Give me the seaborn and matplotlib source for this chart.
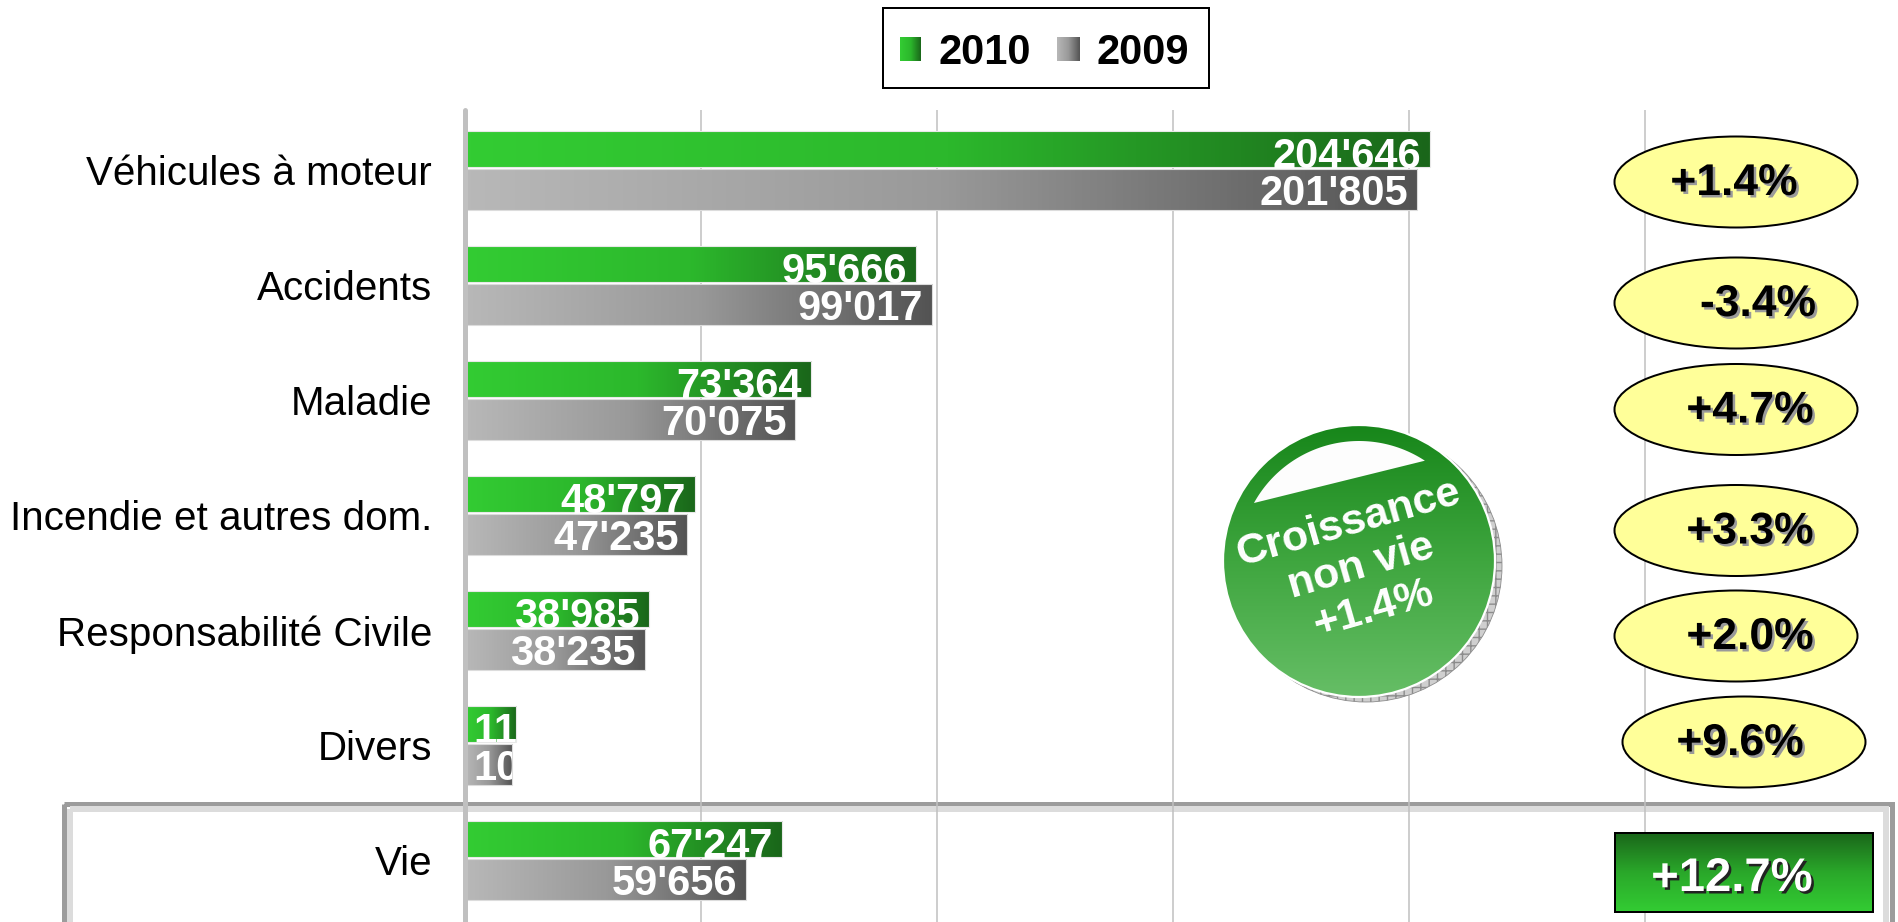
import numpy as np
import pandas as pd
import matplotlib
matplotlib.use("Agg")
import matplotlib.pyplot as plt
import seaborn as sns
from matplotlib import font_manager as fm
from matplotlib.patches import Rectangle, Ellipse, Circle, Polygon
from matplotlib.colors import LinearSegmentedColormap
from matplotlib.transforms import Bbox, offset_copy
import matplotlib.patheffects as pe

# ---------------- data ----------------
categories = ["Véhicules à moteur", "Accidents", "Maladie",
              "Incendie et autres dom.", "Responsabilité Civile", "Divers", "Vie"]
years = ["2010", "2009"]
values_2010 = [204646, 95666, 73364, 48797, 38985, 11010, 67247]
values_2009 = [201805, 99017, 70075, 47235, 38235, 10046, 59656]
growth_labels = ["+1.4%", "-3.4%", "+4.7%", "+3.3%", "+2.0%", "+9.6%"]
growth_vie = "+12.7%"
badge_lines = ["Croissance", "non vie", "+1.4%"]


def font_ok(name):
    try:
        fm.findfont(fm.FontProperties(family=name), fallback_to_default=False)
        return True
    except Exception:
        return False


sns.set_theme(style="white")
BASE = "Liberation Sans" if font_ok("Liberation Sans") else "DejaVu Sans"
NARROW = BASE
for cand in ["Liberation Sans Narrow", "Arial Narrow", "Nimbus Sans Narrow"]:
    if font_ok(cand):
        NARROW = cand
        break
nscale = 1.0 if NARROW != BASE else 0.83
plt.rcParams["font.family"] = [BASE, "DejaVu Sans"]

W, H, DPI = 1898, 922, 100
PT = 72.0 / DPI
fig = plt.figure(figsize=(W / DPI, H / DPI), dpi=DPI, facecolor="white")

AX_LEFT, AX_TOP = 464.5, 110
back = fig.add_axes([0, 0, 1, 1], zorder=0)
ax = fig.add_axes([AX_LEFT / W, 0, 1 - AX_LEFT / W, (H - AX_TOP) / H], zorder=1)
front = fig.add_axes([0, 0, 1, 1], zorder=3)
for o in (back, front):
    o.set_xlim(0, W)
    o.set_ylim(H, 0)
    o.axis("off")
    o.patch.set_alpha(0)
ax.patch.set_alpha(0)

df = pd.DataFrame({
    "Branche": categories * 2,
    "Année": [years[0]] * len(categories) + [years[1]] * len(categories),
    "Primes": values_2010 + values_2009,
})

sns.barplot(data=df, y="Branche", x="Primes", hue="Année", order=categories,
            hue_order=years, orient="h", dodge=True, width=0.722, gap=0.08,
            palette={"2010": "#33cc33", "2009": "#b3b3b3"}, saturation=1,
            legend=False, ax=ax)

green_bars = list(ax.containers[0])
gray_bars = list(ax.containers[1])
for p in green_bars:
    p.set_height(p.get_height() - 0.02)
for p in gray_bars:
    p.set_y(p.get_y() - 0.025)
    p.set_height(p.get_height() + 0.025)

cm_green = LinearSegmentedColormap.from_list("g", ["#33cc33", "#2cb82c", "#1a661a"])
cm_gray = LinearSegmentedColormap.from_list("k", ["#b8b8b8", "#999999", "#535353"])
hramp = np.linspace(0, 1, 256)[None, :]
vramp = np.linspace(0, 1, 256)[:, None]


def fill_grad(axis, patch, cmap, ramp=hramp):
    x0, y0, w, h = patch.get_x(), patch.get_y(), patch.get_width(), patch.get_height()
    im = axis.imshow(ramp, cmap=cmap, extent=[x0, x0 + w, y0 + h, y0],
                     aspect="auto", interpolation="bilinear",
                     zorder=patch.get_zorder() - 0.01)
    im.set_clip_path(patch)
    patch.set_facecolor("none")


for p in green_bars:
    fill_grad(ax, p, cm_green)
    p.set_edgecolor("#e8e8e8")
    p.set_linewidth(0.8)
for p in gray_bars:
    fill_grad(ax, p, cm_gray)
    p.set_edgecolor("#dcdcdc")
    p.set_linewidth(0.8)

PX_PER_UNIT = 236 / 50000
ax.set_xlim(0, (W - AX_LEFT) / PX_PER_UNIT)
ax.set_ylim(6.535, -0.526)
ax.set_xticks(np.arange(50000, 250001, 50000))
ax.set_xticklabels([])
ax.tick_params(axis="x", length=0)
ax.set_yticks(range(len(categories)))
ax.set_yticklabels(categories, family=[NARROW, "DejaVu Sans"],
                   fontsize=35 * nscale, color="black")
ax.tick_params(axis="y", length=0, pad=23.4)
ax.set_xlabel("")
ax.set_ylabel("")
ax.xaxis.grid(True, color="#c0c0c0", lw=1.1)
ax.yaxis.grid(False)
ax.set_axisbelow(True)
for s in ["top", "right", "bottom"]:
    ax.spines[s].set_visible(False)
ax.spines["left"].set_color("#c0c0c0")
ax.spines["left"].set_linewidth(3.6)
ax.spines["left"].set_capstyle("round")

# ---------------- value labels ----------------
fig.canvas.draw()
renderer = fig.canvas.get_renderer()


def add_label(p, v, dy):
    txt = f"{v:,}".replace(",", "'")
    x0 = p.get_x()
    x1 = x0 + p.get_width()
    yc = p.get_y() + p.get_height() / 2
    t = ax.text(x1, yc, txt, ha="right", va="center_baseline", color="white",
                fontweight="bold", family=[NARROW, "DejaVu Sans"],
                fontsize=36 * nscale, zorder=5,
                transform=offset_copy(ax.transData, fig=fig, x=-9, y=dy, units="dots"))
    bb = t.get_window_extent(renderer)
    bar_px = p.get_width() * PX_PER_UNIT
    if bb.width + 16 > bar_px:
        t.set_ha("left")
        t.set_x(x0)
        t.set_transform(offset_copy(ax.transData, fig=fig, x=9, y=dy, units="dots"))
        pts = ax.transData.transform([[x0, p.get_y()], [x1, p.get_y() + p.get_height()]])
        t.set_clip_box(Bbox.from_extents(pts[:, 0].min(), pts[:, 1].min(),
                                         pts[:, 0].max(), pts[:, 1].max()))
        t.set_clip_on(True)


for p, v in zip(green_bars, values_2010):
    add_label(p, v, -4)
for p, v in zip(gray_bars, values_2009):
    add_label(p, v, 0)

# ---------------- Vie frame (behind) ----------------
back.add_patch(Rectangle((64.5, 803.5), 1828, 200, facecolor="none",
                         edgecolor="#9c9c9c", lw=5 * PT))
back.add_patch(Rectangle((70.5, 809.0), 1816, 200, facecolor="none",
                         edgecolor="#dcdcdc", lw=6 * PT))

# ---------------- growth ellipses ----------------
ell_cx = [1736, 1736, 1736, 1736, 1736, 1744]
ell_cy = [182, 303, 409.5, 530.5, 636, 742]
txt_cx = [1734, 1758, 1750, 1750, 1750, 1740]
shadow_fx = [pe.withSimplePatchShadow(offset=(1.8, -1.8), shadow_rgbFace="#9a9a9a", alpha=1.0)]
for lab, cx, cy, tx in zip(growth_labels, ell_cx, ell_cy, txt_cx):
    front.add_patch(Ellipse((cx, cy), 243, 91, facecolor="#ffff99",
                            edgecolor="black", lw=2 * PT))
    front.text(tx, cy - 3, lab, ha="center", va="center_baseline", fontsize=32,
               fontweight="bold", color="black", path_effects=shadow_fx)

# Vie growth box
cm_box = LinearSegmentedColormap.from_list("b", ["#1a661a", "#2aa82a", "#33cc33"])
box = Rectangle((1615, 833), 258, 79, facecolor="none", edgecolor="black", lw=2 * PT, zorder=2)
front.add_patch(box)
im = front.imshow(vramp, cmap=cm_box, extent=[1615, 1873, 912, 833], aspect="auto",
                  interpolation="bilinear", zorder=1.9)
im.set_clip_path(box)
front.text(1732, 874, growth_vie, ha="center", va="center_baseline", fontsize=34,
           fontweight="bold", color="white", zorder=3,
           path_effects=[pe.withSimplePatchShadow(offset=(1.8, -1.8),
                                                  shadow_rgbFace="#222222", alpha=1.0)])

# ---------------- badge circle ----------------
ccx, ccy, cr = 1359, 561, 136
front.add_patch(Circle((ccx + 7, ccy + 5), cr, facecolor="#cfcfcf", edgecolor="#8c8c8c",
                       lw=0.6, hatch="++", zorder=2))
circ = Circle((ccx, ccy), cr, facecolor="none", edgecolor="white", lw=1.6, zorder=2.2)
front.add_patch(circ)
cm_circ = LinearSegmentedColormap.from_list("c", ["#17861a", "#3fa63f", "#66be66"])
imc = front.imshow(vramp, cmap=cm_circ, extent=[ccx - cr, ccx + cr, ccy + cr, ccy - cr],
                   aspect="auto", interpolation="bilinear", zorder=2.1)
imc.set_clip_path(circ)
ang = np.deg2rad(np.linspace(56.7, 151.1, 80))
hl = np.column_stack([ccx + 120 * np.cos(ang), ccy - 120 * np.sin(ang)])
front.add_patch(Polygon(hl, closed=True, facecolor="#fdfdfd", edgecolor="none", zorder=2.3))
for line, (bx, by) in zip(badge_lines, [(1347, 519), (1360, 562), (1372, 605)]):
    front.text(bx, by, line, ha="center", va="center_baseline", rotation=16,
               rotation_mode="anchor", fontsize=31, fontweight="bold", color="white",
               zorder=2.5)

# ---------------- legend ----------------
front.add_patch(Rectangle((883, 8), 326, 80, facecolor="white", edgecolor="black",
                          lw=2 * PT, zorder=1))
for (x0, x1), cmap, lab, tx in [((900, 921), cm_green, years[0], 939),
                                ((1057, 1080), cm_gray, years[1], 1097)]:
    sq = Rectangle((x0, 37), x1 - x0, 24, facecolor="none", edgecolor="none", zorder=1.2)
    front.add_patch(sq)
    ims = front.imshow(hramp, cmap=cmap, extent=[x0, x1, 61, 37], aspect="auto",
                       interpolation="bilinear", zorder=1.1)
    ims.set_clip_path(sq)
    front.text(tx, 49, lab, ha="left", va="center_baseline", fontsize=30,
               fontweight="bold", color="black", zorder=1.3)

for o in (back, front):
    o.set_xlim(0, W)
    o.set_ylim(H, 0)

fig.savefig("out.png", dpi=DPI, facecolor="white")
